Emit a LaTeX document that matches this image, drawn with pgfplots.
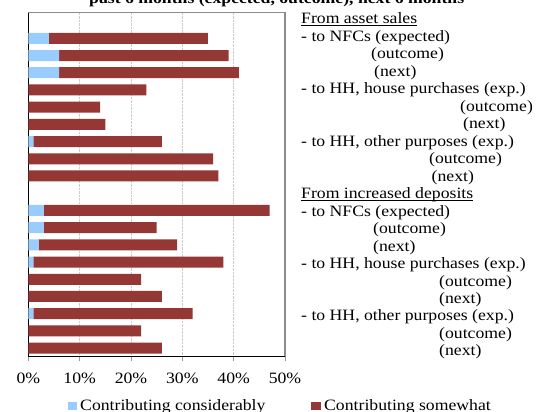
\documentclass[border=0pt]{standalone}
\usepackage{fontspec}
\setmainfont{Liberation Serif}[FakeStretch=1.12]
\usepackage{pgfplots}
\pgfplotsset{compat=1.18}
\definecolor{cblue}{HTML}{99CCFF}
\definecolor{cred}{HTML}{953735}
\newcommand\ul[1]{\setbox0\hbox{#1}\rlap{\rule[-2bp]{\wd0}{0.8bp}}\box0}
\pgfplotstableread{
y blue red
1 4 31
2 6 33
3 6 35
4 0 23
5 0 14
6 0 15
7 1 25
8 0 36
9 0 37
11 3 44
12 3 22
13 2 27
14 1 37
15 0 22
16 0 26
17 1 31
18 0 22
19 0 26
}\datatab
\begin{document}
\fontsize{15.8bp}{17.5bp}\selectfont
\begin{tikzpicture}
\begin{axis}[
  at={(28.3bp,55.3bp)}, anchor=south west,
  scale only axis, width=256.7bp, height=344.2bp,
  xbar stacked, bar width=11bp,
  xmin=0, xmax=50, ymin=-0.5, ymax=19.5, y dir=reverse,
  xtick={0,10,20,30,40,50},
  xticklabels={0\%,10\%,20\%,30\%,40\%,50\%},
  ytick=\empty,
  xmajorgrids,
  major grid style={draw=gray!40, line width=0.6bp, dash pattern=on 2.5bp off 1bp},
  axis line style={draw=gray!90, line width=1.3bp},
  xtick pos=bottom, xtick align=outside, major tick length=4bp,
  tick style={draw=gray!80, line width=0.8bp},
  xticklabel style={anchor=base, inner sep=0pt, yshift=-22.6bp},
  legend style={draw=none, fill=none, legend columns=2,
    at={(axis description cs:0,0)}, anchor=west, xshift=39bp, yshift=-49bp,
    inner sep=0pt, nodes={inner sep=0pt, text depth=0.15em},
    /tikz/every odd column/.append style={column sep=3.3bp},
    /tikz/every even column/.append style={column sep=46bp}},
  legend image code/.code={\fill[#1] (0bp,-4.2bp) rectangle (9.4bp,4.2bp);},
  clip=false,
]
\addplot[fill=cblue, draw=none] table[x=blue, y=y] {\datatab};
\addplot[fill=cred, draw=none] table[x=red, y=y] {\datatab};
\legend{Contributing considerably, Contributing somewhat}
\draw[black, line width=1.3bp] (axis description cs:0,1) -- (axis description cs:0,0) -- (axis description cs:1,0);
\end{axis}
\node[anchor=base, font=\bfseries, inner sep=0pt] at (276.7bp,408.7bp) {past 6 months (expected, outcome), next 6 months};
\begin{scope}[every node/.style={anchor=base west, inner sep=0pt}]
\node at (301bp,388bp) {\ul{From asset sales}};
\node at (301bp,370.53bp) {- to NFCs (expected)};
\node at (371bp,353.06bp) {(outcome)};
\node at (374bp,335.59bp) {(next)};
\node at (301bp,318.12bp) {- to HH, house purchases (exp.)};
\node at (460bp,300.65bp) {(outcome)};
\node at (463bp,283.18bp) {(next)};
\node at (301bp,265.71bp) {- to HH, other purposes (exp.)};
\node at (429bp,248.24bp) {(outcome)};
\node at (431.5bp,230.77bp) {(next)};
\node at (301bp,213.3bp) {\ul{From increased deposits}};
\node at (301bp,195.83bp) {- to NFCs (expected)};
\node at (373bp,178.36bp) {(outcome)};
\node at (373bp,160.89bp) {(next)};
\node at (301bp,143.42bp) {- to HH, house purchases (exp.)};
\node at (439bp,125.95bp) {(outcome)};
\node at (439bp,108.48bp) {(next)};
\node at (301bp,91.01bp) {- to HH, other purposes (exp.)};
\node at (439bp,73.54bp) {(outcome)};
\node at (439bp,56.07bp) {(next)};
\end{scope}
\pgfresetboundingbox
\path[use as bounding box] (0bp,0bp) rectangle (537bp,412bp);
\end{tikzpicture}
\end{document}
